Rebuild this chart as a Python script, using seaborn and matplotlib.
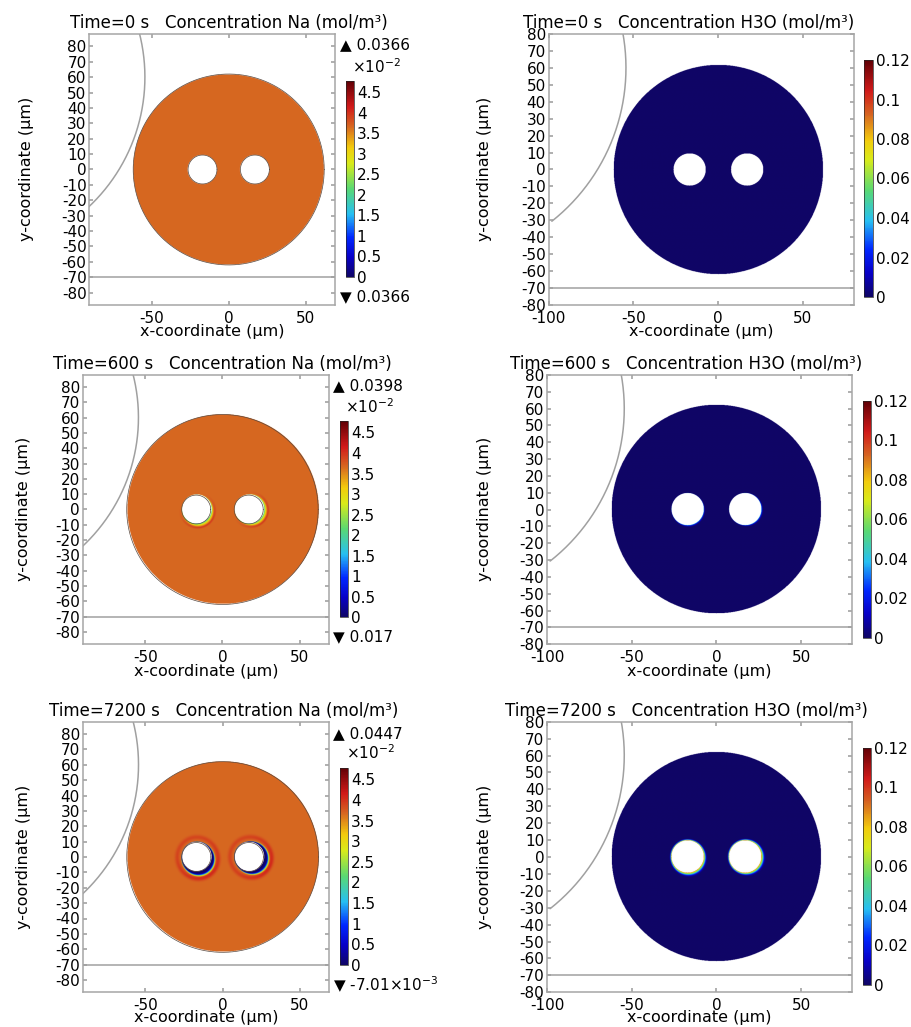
import numpy as np
import seaborn as sns
import matplotlib.pyplot as plt
from matplotlib.colors import LinearSegmentedColormap

sns.set_theme(style="white")
plt.rcParams['font.family'] = ['DejaVu Sans']
plt.rcParams['axes.unicode_minus'] = False
plt.rcParams['text.color'] = 'black'
plt.rcParams['axes.labelcolor'] = 'black'
plt.rcParams['xtick.color'] = 'black'
plt.rcParams['ytick.color'] = 'black'

# snapshot times (s)
times = [0, 600, 7200]

# geometry (um)
disk_radius = 62
hole_x = [-17, 17]
hole_radius = 9.4
hole_thick_dir = [-60, -30]   # side where the boundary layer is thickest (deg)

# Na (mol/m3): bulk value and wall layer vs distance from the hole wall (um)
na_bulk = [0.0366, 0.0366, 0.0366]
na_d_600 = [0, 0.6, 1.2, 1.8, 2.4]
na_v_600 = [0.017, 0.024, 0.030, 0.034, 0.0366]
na_d_7200 = [0, 1.4, 2.5, 3.0, 3.5, 4.1]
na_v_7200 = [-0.007, -0.002, 0.005, 0.016, 0.029, 0.0366]
# red halo just outside the wall layer: peak excess, distance, width (um)
na_halo_600 = [0.0030, 2.8, 0.7]
na_halo_7200 = [0.0040, 5.2, 1.5]
na_max_txt = ['0.0366', '0.0398', '0.0447']
na_min_txt = ['0.0366', '0.017', '-7.01×10$^{-3}$']
na_ticks = [0, 0.5, 1, 1.5, 2, 2.5, 3, 3.5, 4, 4.5]   # x10^-2
na_top = 4.78

# H3O (mol/m3)
h3o_bulk = [0.0, 0.0, 0.0]
h3o_d_600 = [0, 0.5, 1.0, 1.6]
h3o_v_600 = [0.05, 0.02, 0.005, 0.0]
h3o_d_7200 = [0, 0.3, 0.8, 1.3, 1.8, 2.4, 3.2]
h3o_v_7200 = [0.10, 0.08, 0.06, 0.04, 0.02, 0.005, 0.0]
h3o_ticks = [0, 0.02, 0.04, 0.06, 0.08, 0.1, 0.12]
h3o_top = 0.12

# boundary lines of the model (um)
arc_cx, arc_cy, arc_r = -170, 60, 115.6
floor_y = -70

rainbow = LinearSegmentedColormap.from_list('comsol_rainbow', [
    (0.00, (0.06, 0.02, 0.40)), (0.10, (0.03, 0.0, 0.78)), (0.20, (0.0, 0.15, 1.0)),
    (0.32, (0.15, 0.75, 0.95)), (0.45, (0.35, 0.85, 0.45)), (0.58, (0.85, 0.92, 0.1)),
    (0.66, (0.95, 0.80, 0.05)), (0.77, (0.84, 0.40, 0.13)), (0.87, (0.82, 0.10, 0.10)),
    (1.00, (0.38, 0.0, 0.02))])
rainbow.set_bad((1, 1, 1, 0))

W, H = 912, 1027
fig = plt.figure(figsize=(W / 100, H / 100), dpi=100)


def rect(x0, y0, x1, y1):
    return [x0 / W, 1 - y1 / H, (x1 - x0) / W, (y1 - y0) / H]


def fpos(x, y):
    return x / W, 1 - y / H


def field(xx, yy, bulk, d_pts, v_pts, s_min, halo=None, halo_min=1.0):
    f = np.full(xx.shape, bulk, dtype=float)
    inside_hole = np.zeros(xx.shape, bool)
    for hx, th0 in zip(hole_x, hole_thick_dir):
        r = np.hypot(xx - hx, yy)
        inside_hole |= r < hole_radius
        if d_pts is None:
            continue
        th = np.arctan2(yy, xx - hx)
        w = ((1 + np.cos(th - np.radians(th0))) / 2) ** 2
        s = s_min + (1 - s_min) * w
        d_raw = r - hole_radius
        d = d_raw / s
        near = (d >= 0) & (d < d_pts[-1])
        f[near] = np.interp(d[near], d_pts, v_pts)
        if halo is not None:
            amp, dc, dw = halo
            hw = halo_min + (1 - halo_min) * w
            dc_eff = dc * (0.55 + 0.45 * s)
            bump = amp * hw * np.exp(-((d_raw - dc_eff) / dw) ** 2)
            far = d >= d_pts[-1]
            f[far] += bump[far]
    mask = (np.hypot(xx, yy) > disk_radius) | inside_hole
    return np.ma.masked_where(mask, f)


# panel layout in pixels: axes, colorbar, title centre, x-label centre, y-label centre
left_cols = [
    dict(ax=(89.3, 34, 335, 305), cb=(345.7, 81, 354, 277), title=(229, 23), xl=(212, 331.7), yl=(26.7, 169)),
    dict(ax=(82.7, 374.7, 329, 644.3), cb=(340, 421, 348.3, 617.3), title=(222.5, 364), xl=(206, 671.7), yl=(23.3, 509)),
    dict(ax=(82.7, 721.7, 329.3, 992.3), cb=(340, 767.7, 348.3, 965), title=(223.3, 710.7), xl=(206, 1017.5), yl=(23.3, 857)),
]
right_cols = [
    dict(ax=(548.7, 34, 853.7, 305), cb=(864, 60, 873, 297), title=(688.5, 23), xl=(701, 331.7), yl=(484.3, 169)),
    dict(ax=(547, 375, 852, 644.3), cb=(862.7, 401, 871, 637.7), title=(686, 364), xl=(699.5, 671.7), yl=(484.3, 509)),
    dict(ax=(547, 721.7, 852, 992.3), cb=(862.7, 747.7, 871, 985), title=(686, 710.7), xl=(699.5, 1017.5), yl=(484.3, 857)),
]
na_extra = [((340, 45), (376, 67), (340, 296.7)),
            ((333.3, 386), (369, 406.7), (333.3, 636.7)),
            ((333.3, 733.3), (370, 752.7), (333.3, 985))]

frame_col = '#a6a6a6'
line_col = '#a0a0a0'


def draw_panel(lay, xlim, ylim, xticks, data, vmax, ticks, ticklabels, title, outline):
    ax = fig.add_axes(rect(*lay['ax']))
    x = np.arange(xlim[0], xlim[1] + 0.2, 0.2)
    y = np.arange(ylim[0], ylim[1] + 0.2, 0.2)
    xx, yy = np.meshgrid(x, y)
    im = ax.imshow(data(xx, yy), origin='lower', extent=(x[0], x[-1], y[0], y[-1]),
                   cmap=rainbow, vmin=0, vmax=vmax, interpolation='bilinear', aspect='auto')
    # model outlines
    if outline:
        t = np.linspace(0, 2 * np.pi, 400)
        for cx, rr in [(0, disk_radius)] + [(hx, hole_radius) for hx in hole_x]:
            ax.plot(cx + rr * np.cos(t), rr * np.sin(t), color='#5a4a40', lw=0.5)
    ta = np.linspace(-0.9, 0.9, 300)
    sns.lineplot(x=arc_cx + arc_r * np.cos(ta), y=arc_cy + arc_r * np.sin(ta), ax=ax,
                 color=line_col, lw=1.1, sort=False, estimator=None)
    sns.lineplot(x=[xlim[0], xlim[1]], y=[floor_y, floor_y], ax=ax,
                 color=line_col, lw=1.1, sort=False, estimator=None)
    ax.set_xlim(xlim)
    ax.set_ylim(ylim)
    ax.set_xticks(xticks)
    ax.set_yticks(np.arange(-80, 81, 10))
    ax.tick_params(direction='in', length=3, color=frame_col, labelsize=11,
                   top=True, right=True, bottom=True, left=True, labelcolor='black')
    ax.tick_params(axis='x', pad=4)
    ax.tick_params(axis='y', pad=2)
    for sp in ax.spines.values():
        sp.set_color(frame_col)
        sp.set_linewidth(1.1)
    ax.set_xlabel('x-coordinate (µm)', fontsize=11.5)
    ax.set_ylabel('y-coordinate (µm)', fontsize=11.5)
    ax.xaxis.set_label_coords(*fpos(*lay['xl']), transform=fig.transFigure)
    ax.xaxis.label.set_va('center')
    ax.yaxis.set_label_coords(*fpos(*lay['yl']), transform=fig.transFigure)
    ax.yaxis.label.set_va('center')
    fig.text(*fpos(*lay['title']), title, fontsize=12, ha='center', va='center')
    cax = fig.add_axes(rect(*lay['cb']))
    cb = fig.colorbar(im, cax=cax)
    cb.set_ticks(ticks)
    cb.set_ticklabels(ticklabels)
    cb.outline.set_linewidth(0.5)
    cax.tick_params(length=0, pad=2, labelsize=11)
    return ax


for i, t_s in enumerate(times):
    na_d = [None, na_d_600, na_d_7200][i]
    na_v = [None, na_v_600, na_v_7200][i]
    na_h = [None, na_halo_600, na_halo_7200][i]
    h_d = [None, h3o_d_600, h3o_d_7200][i]
    h_v = [None, h3o_v_600, h3o_v_7200][i]
    na_smin = [1, 0.06, 0.12][i]
    na_hmin = [1, 0.0, 0.55][i]
    h_smin = [1, 0.08, 0.4][i]

    draw_panel(left_cols[i], (-90.5, 69), (-88, 88), [-50, 0, 50],
               lambda xx, yy: field(xx, yy, na_bulk[i], na_d, na_v, na_smin, na_h, na_hmin),
               na_top / 100, [v / 100 for v in na_ticks], [f'{v:g}' for v in na_ticks],
               f'Time={t_s} s   Concentration Na (mol/m³)', True)
    up, mid, dn = na_extra[i]
    fig.text(*fpos(*up), '▲ ' + na_max_txt[i], fontsize=11, ha='left', va='center')
    fig.text(*fpos(*mid), '×10$^{-2}$', fontsize=11, ha='center', va='center')
    fig.text(*fpos(*dn), '▼ ' + na_min_txt[i], fontsize=11, ha='left', va='center')

    draw_panel(right_cols[i], (-100, 80), (-80, 80), [-100, -50, 0, 50],
               lambda xx, yy: field(xx, yy, h3o_bulk[i], h_d, h_v, h_smin),
               h3o_top, h3o_ticks, [f'{v:g}' for v in h3o_ticks],
               f'Time={t_s} s   Concentration H3O (mol/m³)', False)

fig.savefig('out.png', dpi=100)
